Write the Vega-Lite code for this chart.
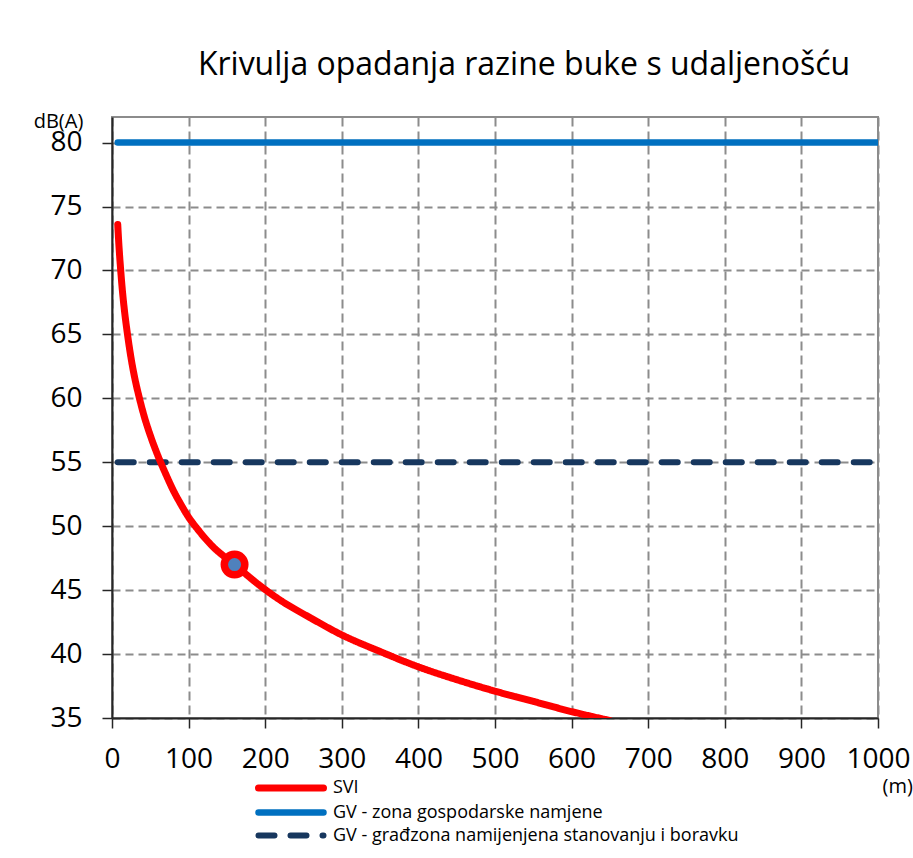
{
  "$schema": "https://vega.github.io/schema/vega-lite/v6.json",
  "width": 766,
  "height": 601,
  "autosize": {"type": "none"},
  "padding": {"left": 112, "top": 117, "right": 35, "bottom": 140},
  "background": "white",
  "config": {
    "view": {"stroke": "#8c8c8c", "strokeWidth": 2},
    "font": "Open Sans"
  },
  "title": {
    "text": "Krivulja opadanja razine buke s udaljenošću",
    "font": "Open Sans",
    "fontSize": 32,
    "fontWeight": "normal",
    "color": "#000000",
    "anchor": "middle",
    "frame": "group",
    "baseline": "alphabetic",
    "offset": 4,
    "dx": 29
  },
  "datasets": {
    "curves": [
      {"series": "GV - zona gospodarske namjene", "d": 7.5, "db": 80},
      {"series": "GV - zona gospodarske namjene", "d": 1000, "db": 80},
      {"series": "GV - građzona namijenjena stanovanju i boravku", "d": 7.5, "db": 55},
      {"series": "GV - građzona namijenjena stanovanju i boravku", "d": 1000, "db": 55},
      {"series": "SVI", "d": 7.5, "db": 73.6},
      {"series": "SVI", "d": 9, "db": 72.0},
      {"series": "SVI", "d": 11, "db": 70.3},
      {"series": "SVI", "d": 13, "db": 68.8},
      {"series": "SVI", "d": 16, "db": 67.0},
      {"series": "SVI", "d": 20, "db": 65.1},
      {"series": "SVI", "d": 25, "db": 63.1},
      {"series": "SVI", "d": 30, "db": 61.5},
      {"series": "SVI", "d": 35, "db": 60.2},
      {"series": "SVI", "d": 42, "db": 58.6},
      {"series": "SVI", "d": 50, "db": 57.1},
      {"series": "SVI", "d": 60, "db": 55.5},
      {"series": "SVI", "d": 70, "db": 54.1},
      {"series": "SVI", "d": 80, "db": 52.8},
      {"series": "SVI", "d": 90, "db": 51.7},
      {"series": "SVI", "d": 100, "db": 50.7},
      {"series": "SVI", "d": 110, "db": 49.9},
      {"series": "SVI", "d": 130, "db": 48.5},
      {"series": "SVI", "d": 160, "db": 47.0},
      {"series": "SVI", "d": 190, "db": 45.5},
      {"series": "SVI", "d": 220, "db": 44.2},
      {"series": "SVI", "d": 260, "db": 42.8},
      {"series": "SVI", "d": 300, "db": 41.5},
      {"series": "SVI", "d": 350, "db": 40.2},
      {"series": "SVI", "d": 400, "db": 39.0},
      {"series": "SVI", "d": 450, "db": 38.0},
      {"series": "SVI", "d": 500, "db": 37.1},
      {"series": "SVI", "d": 550, "db": 36.3},
      {"series": "SVI", "d": 600, "db": 35.5},
      {"series": "SVI", "d": 650, "db": 34.8}
    ],
    "marker": [
      {"d": 160, "db": 47.0}
    ]
  },
  "layer": [
    {
      "data": {"name": "curves"},
      "mark": {"type": "line", "interpolate": "monotone", "strokeCap": "round", "clip": true},
      "encoding": {
        "x": {
          "field": "d",
          "type": "quantitative",
          "scale": {"domain": [0, 1000], "nice": false, "zero": false},
          "axis": {
            "values": [0, 100, 200, 300, 400, 500, 600, 700, 800, 900, 1000],
            "format": "d",
            "title": "(m)",
            "titleX": 770,
            "titleY": 74,
            "titleAlign": "left",
            "titleAnchor": "start",
            "titleBaseline": "alphabetic",
            "titleFont": "Open Sans",
            "titleFontSize": 20,
            "titleFontWeight": "normal",
            "titleColor": "#000000",
            "labelFont": "Open Sans",
            "labelFontSize": 28,
            "labelColor": "#000000",
            "labelPadding": 17,
            "labelFlush": false,
            "labelOverlap": false,
            "tickSize": 10,
            "tickColor": "#262626",
            "tickWidth": 1.5,
            "domainColor": "#262626",
            "domainWidth": 2,
            "grid": true,
            "gridColor": "#8c8c8c",
            "gridWidth": 2,
            "gridDash": [9, 5]
          }
        },
        "y": {
          "field": "db",
          "type": "quantitative",
          "scale": {"domain": [35, 82], "nice": false, "zero": false},
          "axis": {
            "values": [35, 40, 45, 50, 55, 60, 65, 70, 75, 80],
            "title": "dB(A)",
            "titleAngle": 0,
            "titleX": -54,
            "titleY": 10,
            "titleAlign": "center",
            "titleBaseline": "alphabetic",
            "titleFont": "Open Sans",
            "titleFontSize": 20,
            "titleFontWeight": "normal",
            "titleColor": "#000000",
            "labelFont": "Open Sans",
            "labelFontSize": 28,
            "labelColor": "#000000",
            "labelPadding": 20,
            "labelFlush": false,
            "labelOverlap": false,
            "tickSize": 10,
            "tickColor": "#262626",
            "tickWidth": 1.5,
            "domainColor": "#262626",
            "domainWidth": 2,
            "grid": true,
            "gridColor": "#8c8c8c",
            "gridWidth": 2,
            "gridDash": [8, 5]
          }
        },
        "color": {
          "field": "series",
          "type": "nominal",
          "scale": {
            "domain": ["SVI", "GV - zona gospodarske namjene", "GV - građzona namijenjena stanovanju i boravku"],
            "range": ["#FF0000", "#0070C0", "#17375E"]
          },
          "legend": {
            "title": null,
            "orient": "none",
            "legendX": 169,
            "legendY": 661,
            "padding": 0,
            "symbolType": "M-5,0H5",
            "symbolSize": 169,
            "symbolStrokeWidth": 6,
            "labelFont": "Open Sans",
            "labelFontSize": 18,
            "labelColor": "#000000",
            "labelOffset": 32,
            "labelLimit": 0,
            "rowPadding": -2.5,
            "labelExpr": "datum.label == 'SVI' ? 'SVI' : '\u00a0\u00a0' + datum.label",
            "encode": {"symbols": {"update": {"strokeCap": {"value": "round"}, "strokeDash": {"signal": "datum.value == 'GV - građzona namijenjena stanovanju i boravku' ? [11, 14.5] : [1, 0]"}}}}
          }
        },
        "strokeDash": {
          "field": "series",
          "type": "nominal",
          "scale": {
            "domain": ["SVI", "GV - zona gospodarske namjene", "GV - građzona namijenjena stanovanju i boravku"],
            "range": [[1, 0], [1, 0], [16, 16]]
          },
          "legend": {
            "title": null,
            "orient": "none",
            "legendX": 169,
            "legendY": 661,
            "padding": 0,
            "symbolType": "M-5,0H5",
            "symbolSize": 169,
            "symbolStrokeWidth": 6,
            "labelFont": "Open Sans",
            "labelFontSize": 18,
            "labelColor": "#000000",
            "labelOffset": 32,
            "labelLimit": 0,
            "rowPadding": -2.5,
            "labelExpr": "datum.label == 'SVI' ? 'SVI' : '\u00a0\u00a0' + datum.label",
            "encode": {"symbols": {"update": {"strokeCap": {"value": "round"}, "strokeDash": {"signal": "datum.value == 'GV - građzona namijenjena stanovanju i boravku' ? [11, 14.5] : [1, 0]"}}}}
          }
        },
        "strokeWidth": {
          "field": "series",
          "type": "nominal",
          "scale": {
            "domain": ["SVI", "GV - zona gospodarske namjene", "GV - građzona namijenjena stanovanju i boravku"],
            "range": [7, 6, 6]
          },
          "legend": null
        }
      }
    },
    {
      "data": {"name": "marker"},
      "mark": {
        "type": "point",
        "shape": "circle",
        "filled": true,
        "fill": "#4F81BD",
        "stroke": "#FF0000",
        "strokeWidth": 7.5,
        "opacity": 1,
        "size": 420
      },
      "encoding": {
        "x": {"field": "d", "type": "quantitative"},
        "y": {"field": "db", "type": "quantitative"}
      }
    }
  ]
}
